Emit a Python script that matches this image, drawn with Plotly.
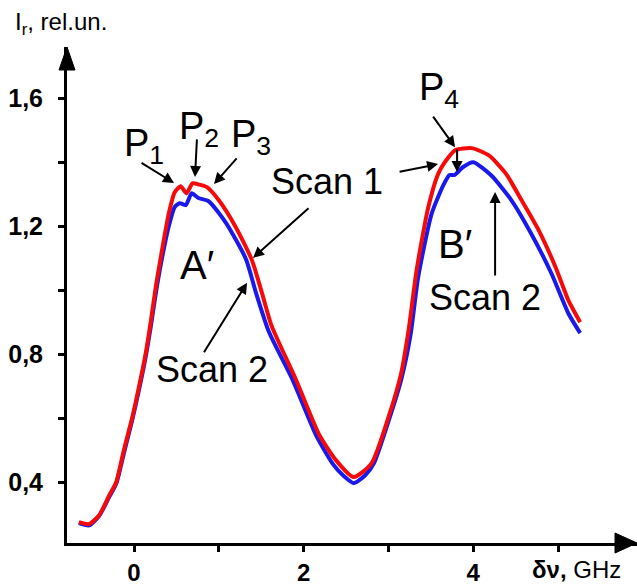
import plotly.graph_objects as go

# ---- data ----
scan1_x = [-0.65, -0.53, -0.41, -0.29, -0.21, -0.12, -0.02, 0.06, 0.14, 0.20, 0.26, 0.33, 0.41, 0.48,
           0.55, 0.62, 0.69, 0.77, 0.86, 1.00, 1.20, 1.39, 1.51, 1.62, 1.91, 2.18, 2.38, 2.59, 2.80,
           3.00, 3.15, 3.24, 3.33, 3.47, 3.59, 3.71, 3.79, 3.98, 4.18, 4.38, 4.57, 4.77, 4.97, 5.12, 5.26]
scan1_y = [0.275, 0.269, 0.297, 0.36, 0.40, 0.50, 0.603, 0.70, 0.806, 0.906, 1.016, 1.125, 1.24, 1.306,
           1.325, 1.303, 1.334, 1.330, 1.322, 1.281, 1.197, 1.094, 0.99, 0.89, 0.72, 0.55, 0.469, 0.416, 0.459,
           0.603, 0.741, 0.88, 1.06, 1.26, 1.366, 1.416, 1.438, 1.444, 1.422, 1.366, 1.281, 1.188, 1.072, 0.969, 0.90]

scan2_x = [-0.65, -0.53, -0.41, -0.29, -0.21, -0.12, -0.02, 0.06, 0.14, 0.20, 0.26, 0.33, 0.41, 0.48,
           0.54, 0.61, 0.68, 0.76, 0.88, 1.08, 1.32, 1.44, 1.59, 1.87, 2.15, 2.35, 2.47, 2.59, 2.72, 2.83,
           3.00, 3.15, 3.26, 3.35, 3.51, 3.65, 3.72, 3.78, 3.88, 4.00, 4.21, 4.45, 4.68, 4.92, 5.12, 5.26]
scan2_y = [0.272, 0.265, 0.295, 0.355, 0.395, 0.49, 0.595, 0.69, 0.795, 0.89, 0.995, 1.10, 1.20, 1.26,
           1.272, 1.266, 1.303, 1.288, 1.278, 1.212, 1.097, 0.99, 0.87, 0.72, 0.545, 0.455, 0.42, 0.397, 0.42, 0.46,
           0.59, 0.72, 0.86, 1.04, 1.24, 1.33, 1.36, 1.36, 1.385, 1.40, 1.359, 1.281, 1.178, 1.053, 0.928, 0.866]

x_tick_vals = [0, 2, 4]
x_tick_text = ["0", "2", "4"]
x_minor_vals = [1, 3, 5]
y_tick_vals = [0.4, 0.8, 1.2, 1.6]
y_tick_text = ["0,4", "0,8", "1,2", "1,6"]
y_minor_vals = [0.6, 1.0, 1.4]

FONT = "Liberation Sans, Arial, sans-serif"
W, H = 637, 588
L, R, T, B = 67, 0, 47, 45
PW, PH = W - L - R, H - T - B


def pp(xp, yp):
    """pixel -> paper coordinates"""
    return (xp - L) / PW, (H - B - yp) / PH


fig = go.Figure()
fig.add_trace(go.Scatter(x=scan2_x, y=scan2_y, mode="lines", name="Scan 2",
                         line=dict(color="rgb(25,25,235)", width=4, shape="spline", smoothing=0.6)))
fig.add_trace(go.Scatter(x=scan1_x, y=scan1_y, mode="lines", name="Scan 1",
                         line=dict(color="rgb(245,10,10)", width=4, shape="spline", smoothing=0.6)))

fig.update_layout(
    width=W, height=H,
    margin=dict(l=L, r=R, t=T, b=B, autoexpand=False),
    paper_bgcolor="white", plot_bgcolor="white",
    showlegend=False,
    font=dict(family=FONT, color="black"),
)
minor_style = dict(ticks="outside", ticklen=6, tickwidth=3, tickcolor="black", showgrid=False)
fig.update_xaxes(range=[-0.79, 5.93], showline=True, linecolor="black", linewidth=3,
                 ticks="outside", ticklen=6, tickwidth=3, tickcolor="black",
                 tickvals=x_tick_vals, ticktext=x_tick_text, automargin=False,
                 minor=dict(tickvals=x_minor_vals, **minor_style),
                 tickfont=dict(family=FONT, size=24, color="black", weight="bold"),
                 showgrid=False, zeroline=False, ticklabelstandoff=0)
fig.update_yaxes(range=[0.21, 0.21 + PH / 320], showline=True, linecolor="black", linewidth=3,
                 ticks="outside", ticklen=6, tickwidth=3, tickcolor="black",
                 tickvals=y_tick_vals, ticktext=y_tick_text, automargin=False,
                 minor=dict(tickvals=y_minor_vals, **minor_style),
                 tickfont=dict(family=FONT, size=25, color="black", weight="bold"),
                 showgrid=False, zeroline=False, ticklabelstandoff=10)

# axis arrowheads
x0, y0 = pp(67, 47)
xa, ya = pp(59, 70)
xb, _ = pp(75, 70)
fig.add_shape(type="path", xref="paper", yref="paper",
              path=f"M {x0},{y0} L {xa},{ya} L {xb},{ya} Z",
              fillcolor="black", line=dict(color="black", width=1))
x0, y0 = pp(637, 543)
xa, ya = pp(615, 533)
_, yb = pp(615, 553)
fig.add_shape(type="path", xref="paper", yref="paper",
              path=f"M {x0},{y0} L {xa},{ya} L {xa},{yb} Z",
              fillcolor="black", line=dict(color="black", width=1))


# text labels
def label(text, xp, yp, size, xanchor="center"):
    px_, py_ = pp(xp, yp)
    fig.add_annotation(x=px_, y=py_, xref="paper", yref="paper", text=text, showarrow=False,
                       font=dict(family=FONT, size=size, color="black"),
                       xanchor=xanchor, yanchor="middle")


label("I<sub>r</sub>, rel.un.", 13, 24, 24, xanchor="left")
label("<b>δν,</b> GHz", 530, 569, 24, xanchor="left")
label("P<sub>1</sub>", 122, 146, 38, xanchor="left")
label("P<sub>2</sub>", 177, 129, 38, xanchor="left")
label("P<sub>3</sub>", 229, 137, 38, xanchor="left")
label("P<sub>4</sub>", 417, 90, 38, xanchor="left")
label("A′", 197, 265, 40)
label("B′", 455, 244, 40)
label("Scan 1", 327, 181, 36)
label("Scan 2", 212, 369, 36)
label("Scan 2", 485, 297, 36)

# arrows: (head x, head y) in data units, tail offset in pixels
arrows = [
    (0.472, 1.335, -34, -21),
    (0.719, 1.354, 2, -39),
    (0.943, 1.332, 24, -27),
    (1.403, 1.101, 57, -51),
    (3.585, 1.394, -40, 8),
    (1.333, 1.023, -44, 71),
    (4.257, 1.307, 0, 85),
    (3.785, 1.447, -23, -32),
    (3.809, 1.369, 0, -24),
]
for hx, hy, ax, ay in arrows:
    fig.add_annotation(x=hx, y=hy, xref="x", yref="y", ax=ax, ay=ay, axref="pixel", ayref="pixel",
                       text="", showarrow=True, arrowhead=2, arrowsize=1.1, arrowwidth=2,
                       arrowcolor="black", standoff=0)

fig.write_html("out.html", config={"displayModeBar": False},
               post_script="document.body.style.margin='0';document.body.style.overflow='hidden';")
